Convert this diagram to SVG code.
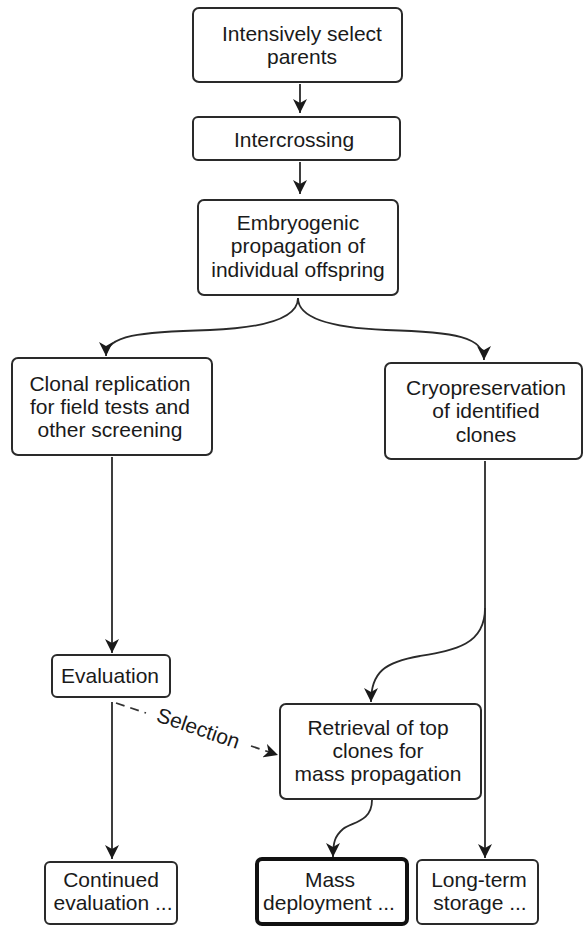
<svg xmlns="http://www.w3.org/2000/svg" width="584" height="926" viewBox="0 0 584 926">
<defs>
<style>
.box{fill:#fff;stroke:#2a2a2a;stroke-width:2}
.thick{fill:#fff;stroke:#111;stroke-width:4}
.t{font-family:"Liberation Sans",Arial,sans-serif;font-size:21px;fill:#1a1a1a;text-anchor:middle}
.c{fill:none;stroke:#2a2a2a;stroke-width:1.8}
.d{fill:none;stroke:#333;stroke-width:1.8;stroke-dasharray:9,6}
</style>
<marker id="ah" markerUnits="userSpaceOnUse" markerWidth="16" markerHeight="14" refX="14" refY="7" orient="auto">
<path d="M0,0 L14,7 L0,14 L4,7 z" fill="#1a1a1a"/>
</marker>
</defs>
<rect width="584" height="926" fill="#fff"/>
<g id="connectors">
<line class="c" x1="300" y1="84" x2="300" y2="113" marker-end="url(#ah)"/>
<line class="c" x1="300" y1="162" x2="300" y2="194" marker-end="url(#ah)"/>
<path class="c" d="M298,298 C298,320 260,328 210,330 C140,332 106,335 106,356" marker-end="url(#ah)"/>
<path class="c" d="M298,298 C298,320 336,328 386,330 C456,332 484,337 484,360" marker-end="url(#ah)"/>
<line class="c" x1="112" y1="457" x2="112" y2="653" marker-end="url(#ah)"/>
<line class="c" x1="485" y1="461" x2="485" y2="858" marker-end="url(#ah)"/>
<path class="c" d="M485,608 C485,645 455,650 420,656 C385,662 371,672 371,702" marker-end="url(#ah)"/>
<line class="c" x1="112" y1="702" x2="112" y2="859" marker-end="url(#ah)"/>
<path class="c" d="M372,800 C372,822 352,822 343,829 C335,836 333,842 333,857" marker-end="url(#ah)"/>
<line class="d" x1="116" y1="703" x2="146" y2="713"/>
<line class="d" x1="251" y1="746" x2="278" y2="755" marker-end="url(#ah)"/>
<text class="t" transform="translate(196,735) rotate(19)">Selection</text>
</g>
<g id="n1"><rect class="box" x="193" y="8" width="209" height="74" rx="6"/>
<text class="t" x="302" y="41">Intensively select</text><text class="t" x="302" y="64">parents</text></g>
<g id="n2"><rect class="box" x="193" y="117" width="207" height="43" rx="5"/>
<text class="t" x="294" y="147">Intercrossing</text></g>
<g id="n3"><rect class="box" x="198" y="200" width="200" height="95" rx="6"/>
<text class="t" x="298" y="230">Embryogenic</text><text class="t" x="298" y="253">propagation of</text><text class="t" x="298" y="277">individual offspring</text></g>
<g id="n4"><rect class="box" x="12" y="358" width="200" height="97" rx="6"/>
<text class="t" x="110" y="391">Clonal replication</text><text class="t" x="110" y="414">for field tests and</text><text class="t" x="110" y="437">other screening</text></g>
<g id="n5"><rect class="box" x="385" y="363" width="197" height="96" rx="6"/>
<text class="t" x="486" y="395">Cryopreservation</text><text class="t" x="486" y="418">of identified</text><text class="t" x="486" y="442">clones</text></g>
<g id="n6"><rect class="box" x="52" y="655" width="118" height="42" rx="5"/>
<text class="t" x="110" y="683">Evaluation</text></g>
<g id="n7"><rect class="box" x="280" y="704" width="201" height="95" rx="6"/>
<text class="t" x="378" y="735">Retrieval of top</text><text class="t" x="378" y="758">clones for</text><text class="t" x="378" y="781">mass propagation</text></g>
<g id="n8"><rect class="box" x="45" y="862" width="132" height="62" rx="5"/>
<text class="t" x="111" y="887">Continued</text><text class="t" x="113" y="910">evaluation ...</text></g>
<g id="n9"><rect class="thick" x="257" y="859" width="150" height="65" rx="5"/>
<text class="t" x="330" y="887">Mass</text><text class="t" x="329" y="910">deployment ...</text></g>
<g id="n10"><rect class="box" x="417" y="860" width="121" height="64" rx="5"/>
<text class="t" x="479" y="887">Long-term</text><text class="t" x="480" y="910">storage ...</text></g>
</svg>
